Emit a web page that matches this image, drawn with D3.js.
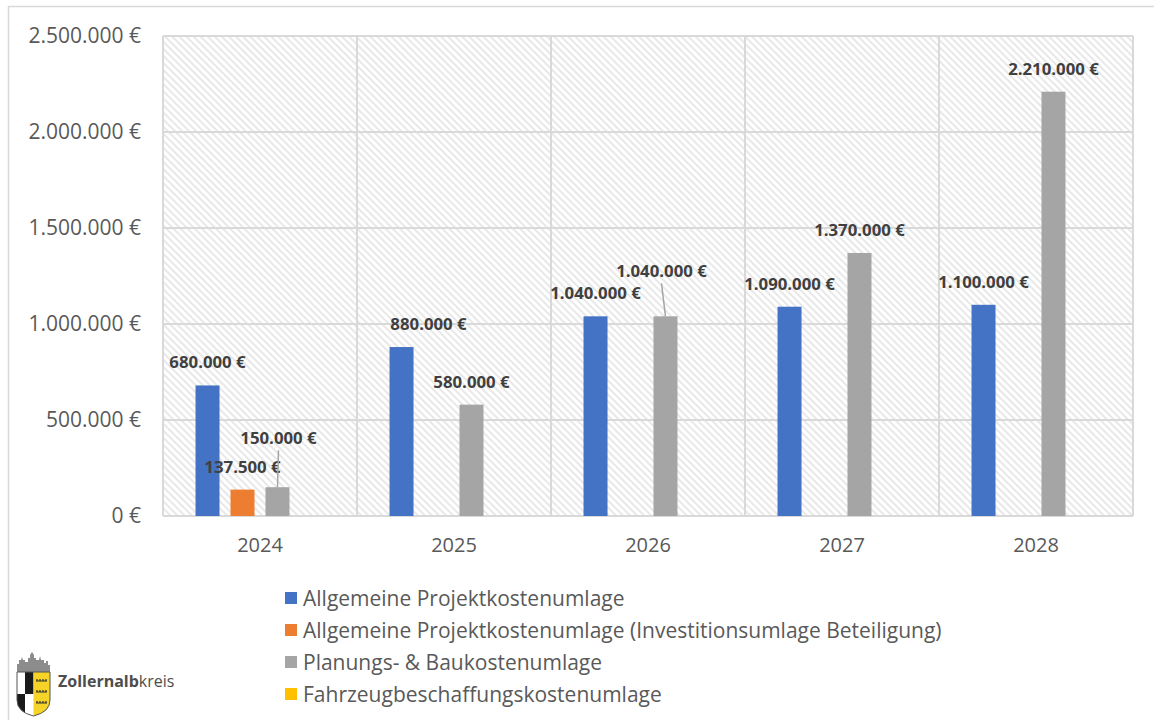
<!DOCTYPE html>
<html>
<head>
<meta charset="utf-8">
<script src="https://cdn.jsdelivr.net/npm/d3@7"></script>
<style>
  html, body { margin: 0; padding: 0; background: #ffffff; }
  svg { display: block; }
</style>
</head>
<body>
<svg id="chart" width="1154" height="720"></svg>
<script>
// ---------- data ----------
const years = ["2024", "2025", "2026", "2027", "2028"];
const seriesNames = [
  "Allgemeine Projektkostenumlage",
  "Allgemeine Projektkostenumlage (Investitionsumlage Beteiligung)",
  "Planungs- & Baukostenumlage",
  "Fahrzeugbeschaffungskostenumlage"
];
const allgemeine = [680000, 880000, 1040000, 1090000, 1100000];
const investition = [137500, 0, 0, 0, 0];
const planung = [150000, 580000, 1040000, 1370000, 2210000];
const fahrzeug = [0, 0, 0, 0, 0];
const yTicks = [0, 500000, 1000000, 1500000, 2000000, 2500000];
const seriesColors = ["#4472c4", "#ed7d31", "#a5a5a5", "#ffc000"];

// manual data label placement (label layout, not data)
const labelLayout = {
  "0-1": { dx: 27, dy: 0 },
  "2-0": { dx: 1, dy: -26, leader: true },
  "2-2": { dx: -4, dy: -22, leader: true }
};

const seriesValues = [allgemeine, investition, planung, fahrzeug];

// ---------- setup ----------
const svg = d3.select("#chart");
const W = 1154, H = 720;
const plot = { left: 163, right: 1133, top: 36, bottom: 516 };
const FONT = "'Open Sans', sans-serif";

const de = d3.formatLocale({ decimal: ",", thousands: ".", grouping: [3], currency: ["", " €"] });
const fmt = v => de.format(",")(v) + " €";

const x = d3.scaleBand().domain(years).range([plot.left, plot.right]).padding(0);
const xs = d3.scaleBand().domain(d3.range(seriesValues.length))
  .range([0, x.bandwidth()]).paddingInner(0.314).paddingOuter(0.93);
const y = d3.scaleLinear().domain([0, 2500000]).range([plot.bottom, plot.top]);

// outer frame
svg.append("path")
  .attr("d", `M8.5,${H} L8.5,6.5 L${W},6.5`)
  .attr("fill", "none").attr("stroke", "#d9d9d9").attr("stroke-width", 1.5);

// hatch pattern
const defs = svg.append("defs");
const pat = defs.append("pattern")
  .attr("id", "hatch").attr("patternUnits", "userSpaceOnUse")
  .attr("width", 5).attr("height", 5)
  .attr("patternTransform", "rotate(-45)");
pat.append("rect").attr("width", 5).attr("height", 5).attr("fill", "#ffffff");
pat.append("line").attr("x1", 1).attr("y1", 0).attr("x2", 1).attr("y2", 5)
  .attr("stroke", "#e1e1e1").attr("stroke-width", 1.5);

svg.append("rect")
  .attr("x", plot.left).attr("y", plot.top)
  .attr("width", plot.right - plot.left).attr("height", plot.bottom - plot.top)
  .attr("fill", "url(#hatch)");

// horizontal gridlines
svg.append("g").selectAll("line").data(yTicks).join("line")
  .attr("x1", plot.left).attr("x2", plot.right)
  .attr("y1", d => y(d)).attr("y2", d => y(d))
  .attr("stroke", "#d9d9d9").attr("stroke-width", 2);

// vertical gridlines (category boundaries)
const bounds = years.map(d => x(d)).concat([plot.right]);
svg.append("g").selectAll("line").data(bounds).join("line")
  .attr("x1", d => d).attr("x2", d => d)
  .attr("y1", plot.top).attr("y2", plot.bottom)
  .attr("stroke", "#d9d9d9").attr("stroke-width", 2);

// y axis labels
const yAxis = d3.axisLeft(y).tickValues(yTicks).tickFormat(fmt).tickSize(0).tickPadding(22);
const gy = svg.append("g").attr("transform", `translate(${plot.left},0)`).call(yAxis);
gy.select(".domain").remove();
gy.selectAll("text")
  .attr("font-family", FONT).attr("font-size", 21)
  .attr("fill", "#595959");

// x axis labels
const xAxis = d3.axisBottom(x).tickSize(0).tickPadding(22);
const gx = svg.append("g").attr("transform", `translate(0,${plot.bottom})`).call(xAxis);
gx.select(".domain").remove();
gx.selectAll("text")
  .attr("font-family", FONT).attr("font-size", 20)
  .attr("fill", "#595959");

// bars
const barData = [];
seriesValues.forEach((vals, s) => {
  vals.forEach((v, i) => { if (v > 0) barData.push({ s, i, v, year: years[i] }); });
});

svg.append("g").selectAll("rect").data(barData).join("rect")
  .attr("x", d => x(d.year) + xs(d.s))
  .attr("y", d => y(d.v))
  .attr("width", xs.bandwidth())
  .attr("height", d => y(0) - y(d.v))
  .attr("fill", d => seriesColors[d.s]);

// data labels + leader lines
const lab = svg.append("g");
barData.forEach(d => {
  const L = labelLayout[d.s + "-" + d.i] || { dx: 0, dy: 0 };
  const cx = x(d.year) + xs(d.s) + xs.bandwidth() / 2;
  const top = y(d.v);
  const lx = cx + L.dx, ly = top - 17 + L.dy;
  if (L.leader) {
    lab.append("line")
      .attr("x1", lx).attr("y1", ly + 6)
      .attr("x2", cx).attr("y2", top)
      .attr("stroke", "#a5a5a5").attr("stroke-width", 1.5);
  }
  lab.append("text")
    .attr("x", lx).attr("y", ly)
    .attr("text-anchor", "middle")
    .attr("font-family", FONT).attr("font-weight", "bold")
    .attr("font-size", 16.8).attr("fill", "#404040")
    .text(fmt(d.v));
});

// legend
const leg = svg.append("g").attr("transform", "translate(285,598)");
seriesNames.forEach((name, k) => {
  const g = leg.append("g").attr("transform", `translate(0,${k * 32})`);
  g.append("rect").attr("x", 0).attr("y", -6).attr("width", 12).attr("height", 12)
    .attr("fill", seriesColors[k]);
  g.append("text").attr("x", 18).attr("y", 7.5)
    .attr("font-family", FONT).attr("font-size", 21)
    .attr("fill", "#595959").text(name);
});

// logo
const logo = svg.append("g");
logo.append("path")
  .attr("d", "M17,672 L17,664 L19,664 L19,660 L21,660 L22,657 L23,660 L25,660 L25,662 L28,662 L28,658 L30,658 L30,655 L32,652 L34,655 L34,658 L36,658 L36,660 L39,660 L40,656 L41,660 L44,660 L44,663 L46,663 L46,661 L48,661 L48,665 L50,665 L50,672 Z")
  .attr("fill", "#8c8c8c");
const shield = "M17,672 L50,672 L50,700 Q50,712 33.5,716 Q17,712 17,700 Z";
logo.append("clipPath").attr("id", "shieldClip").append("path").attr("d", shield);
const sg = logo.append("g").attr("clip-path", "url(#shieldClip)");
sg.append("rect").attr("x", 17).attr("y", 672).attr("width", 8).attr("height", 22).attr("fill", "#ffffff");
sg.append("rect").attr("x", 25).attr("y", 672).attr("width", 8.5).attr("height", 22).attr("fill", "#1a1a1a");
sg.append("rect").attr("x", 17).attr("y", 694).attr("width", 8).attr("height", 24).attr("fill", "#1a1a1a");
sg.append("rect").attr("x", 25).attr("y", 694).attr("width", 8.5).attr("height", 24).attr("fill", "#ffffff");
sg.append("rect").attr("x", 33.5).attr("y", 672).attr("width", 17).attr("height", 46).attr("fill", "#f5d327");
[681, 692, 703].forEach(yy => {
  sg.append("path").attr("d", `M36,${yy} L47,${yy} M37,${yy} L37,${yy - 2} M40,${yy} L40,${yy - 2} M43,${yy} L43,${yy - 2} M46,${yy} L46,${yy - 2}`)
    .attr("stroke", "#333").attr("stroke-width", 1.2);
});
logo.append("path").attr("d", shield).attr("fill", "none").attr("stroke", "#555").attr("stroke-width", 1);
const lt = logo.append("text").attr("x", 58).attr("y", 687)
  .attr("font-family", FONT).attr("font-size", 16).attr("fill", "#4d4d4d");
lt.append("tspan").attr("font-weight", "bold").text("Zollernalb");
lt.append("tspan").text("kreis");
</script>
</body>
</html>
